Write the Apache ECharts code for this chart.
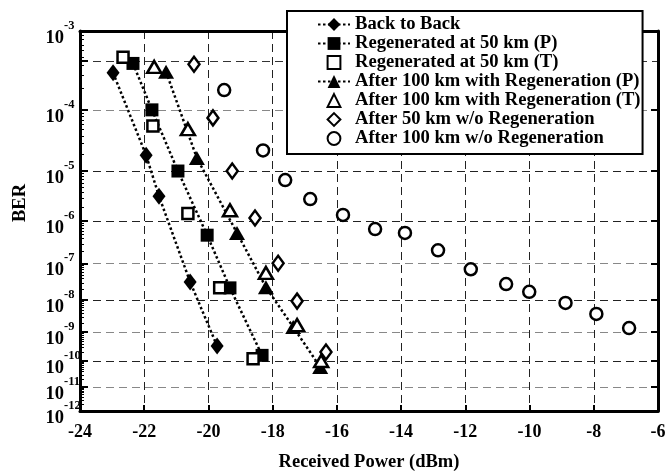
<!DOCTYPE html>
<html>
<head>
<meta charset="utf-8">
<script src="https://cdn.jsdelivr.net/npm/echarts@6/dist/echarts.min.js"></script>
<style>
  html, body { margin: 0; padding: 0; background: #fff; }
  #chart { width: 667px; height: 474px; }
</style>
</head>
<body>
<div id="chart"></div>
<script>
// received power (dBm) and BER
var b2bX = [-22.97, -21.94, -21.54, -20.57, -19.73]
var b2bBer = [3.2e-4, 1.9e-5, 3.3e-6, 3.2e-8, 3.4e-10]

var regenPX = [-22.35, -21.76, -20.95, -20.04, -19.33, -18.33]
var regenPBer = [4.2e-4, 1.0e-4, 1.0e-5, 4.8e-7, 2.2e-8, 1.6e-10]

var regenTX = [-22.66, -21.73, -20.64, -19.65, -18.61]
var regenTBer = [5.0e-4, 5.7e-5, 1.45e-6, 2.2e-8, 1.2e-10]

var km100PX = [-21.32, -20.36, -19.11, -18.21, -17.36, -16.52]
var km100PBer = [3.3e-4, 1.7e-5, 5.4e-7, 2.3e-8, 1.46e-9, 6.0e-11]

var km100TX = [-21.69, -20.64, -19.33, -18.21, -17.24, -16.49]
var km100TBer = [3.8e-4, 5.1e-5, 1.7e-6, 5.6e-8, 1.7e-9, 1.0e-10]

var km50NoX = [-20.45, -19.86, -19.26, -18.55, -17.83, -17.24, -16.34]
var km50NoBer = [4.1e-4, 7.6e-5, 1.0e-5, 1.16e-6, 1.0e-7, 9.2e-9, 2.1e-10]

var km100NoX = [-19.51, -18.30, -17.61, -16.83, -15.81, -14.81, -13.88, -12.85, -11.83, -10.73, -10.01, -8.88, -7.92, -6.90]
var km100NoBer = [1.9e-4, 2.3e-5, 6.8e-6, 2.9e-6, 1.35e-6, 6.6e-7, 5.4e-7, 2.1e-7, 7.0e-8, 2.8e-8, 1.7e-8, 8.1e-9, 3.8e-9, 1.36e-9]

var seriesNames = [
  'Back to Back',
  'Regenerated at 50 km (P)',
  'Regenerated at 50 km (T)',
  'After 100 km with Regeneration (P)',
  'After 100 km with Regeneration (T)',
  'After 50 km w/o Regeneration',
  'After 100 km w/o Regeneration'
]

// decade exponents on the BER axis
var decades = [3, 4, 5, 6, 7, 8, 9, 10, 11, 12]
var extraGridBer = 4.5e-4

var FONT = '"Liberation Serif", "Times New Roman", serif'

// BER axis is linear in log10(-log10(BER))
function berT (ber) {
  return Math.log10(-Math.log10(ber))
}
function pts (xs, bers) {
  return xs.map(function (x, i) { return [x, berT(bers[i])] })
}

var decadeT = decades.map(function (n) { return berT(Math.pow(10, -n)) })
var gridT = [decadeT[0], berT(extraGridBer)].concat(decadeT.slice(1))
var minorT = []
for (var n = 4; n <= 12; n++) {
  for (var k = 2; k <= 9; k++) minorT.push(berT(k * Math.pow(10, -n)))
}
var tMin = decadeT[0]
var tMax = decadeT[decadeT.length - 1]

var dotted = { color: '#000', width: 2.5, type: [2.5, 2.5] }
var noLine = { width: 0, opacity: 0 }
var openStyle = { color: '#fff', borderColor: '#000', borderWidth: 2.5 }

// marker-only series are drawn as lines with a hidden stroke so the legend keeps symbol proportions
function makeSeries (name, xs, bers, symbol, size, itemStyle, lineStyle) {
  return {
    name: name,
    type: 'line',
    data: pts(xs, bers),
    symbol: symbol,
    symbolSize: size,
    showAllSymbol: true,
    itemStyle: itemStyle,
    lineStyle: lineStyle
  }
}

var myChart = echarts.init(document.getElementById('chart'), null, { renderer: 'canvas' })
myChart.setOption({
  animation: false,
  backgroundColor: '#fff',
  grid: { left: 80, right: 9, top: 31, bottom: 63, containLabel: false, outerBoundsMode: 'none' },
  legend: {
    orient: 'vertical',
    left: 287,
    top: 11,
    padding: [4, 2, 6, 30],
    itemWidth: 32,
    itemHeight: 16,
    itemGap: 0,
    backgroundColor: '#fff',
    borderColor: '#000',
    borderWidth: 2,
    z: 10,
    textStyle: { fontFamily: FONT, fontWeight: 'bold', fontSize: 18.6, lineHeight: 18, color: '#000' },
    data: seriesNames
  },
  xAxis: [
    {
      type: 'value',
      min: -24,
      max: -6,
      interval: 2,
      name: 'Received Power (dBm)',
      nameLocation: 'middle',
      nameGap: 42,
      nameTextStyle: { fontFamily: FONT, fontWeight: 'bold', fontSize: 18.5, color: '#000' },
      axisLine: { onZero: false, lineStyle: { color: '#000', width: 3 } },
      axisTick: { inside: true, length: 6, lineStyle: { color: '#000', width: 2 } },
      axisLabel: { margin: 12, fontFamily: FONT, fontWeight: 'bold', fontSize: 18, color: '#000' },
      splitLine: { show: true, lineStyle: { color: '#222', width: 1, type: [8, 5] } }
    },
    {
      type: 'value',
      position: 'top',
      min: -24,
      max: -6,
      interval: 2,
      axisLine: { onZero: false, lineStyle: { color: '#000', width: 3 } },
      axisTick: { show: false },
      axisLabel: { show: false },
      splitLine: { show: false }
    }
  ],
  yAxis: [
    {
      // main BER axis: major ticks, grid lines and the "10" part of the labels
      type: 'value',
      inverse: true,
      min: tMin,
      max: tMax,
      name: 'BER',
      nameLocation: 'middle',
      nameGap: 50,
      nameTextStyle: { fontFamily: FONT, fontWeight: 'bold', fontSize: 18.5, color: '#000', padding: [0, 0, 0, 36] },
      axisLine: { onZero: false, lineStyle: { color: '#000', width: 3 } },
      axisTick: { inside: true, length: 8, customValues: gridT, lineStyle: { color: '#000', width: 2 } },
      axisLabel: {
        margin: 16,
        showMinLabel: true,
        showMaxLabel: true,
        customValues: decadeT,
        formatter: function () { return '10' },
        verticalAlign: 'top',
        lineHeight: 14,
        fontFamily: FONT,
        fontWeight: 'bold',
        fontSize: 18.5,
        color: '#000'
      },
      splitLine: {
        show: true,
        lineStyle: {
          color: ['#222', '#333', '#888', '#222', '#222', '#888', '#222', '#888', '#222', '#888', '#222'],
          width: 1,
          type: [8, 5]
        }
      }
    },
    {
      // minor ticks and the exponents
      type: 'value',
      inverse: true,
      min: tMin,
      max: tMax,
      position: 'left',
      axisLine: { show: false, onZero: false },
      axisTick: { inside: true, length: 4, customValues: minorT, lineStyle: { color: '#000', width: 1 } },
      axisLabel: {
        margin: 16,
        showMinLabel: true,
        showMaxLabel: true,
        customValues: decadeT,
        formatter: function (v) { return '-' + Math.round(Math.pow(10, v)) },
        align: 'left',
        verticalAlign: 'bottom',
        lineHeight: 10,
        fontFamily: FONT,
        fontWeight: 'bold',
        fontSize: 12.5,
        color: '#000'
      },
      splitLine: { show: false }
    },
    {
      type: 'value',
      inverse: true,
      min: tMin,
      max: tMax,
      position: 'right',
      axisLine: { onZero: false, lineStyle: { color: '#000', width: 3 } },
      axisTick: { inside: true, length: 7, customValues: decadeT, lineStyle: { color: '#000', width: 2 } },
      axisLabel: { show: false },
      splitLine: { show: false }
    }
  ],
  series: [
    makeSeries(seriesNames[0], b2bX, b2bBer, 'diamond', [13, 17], { color: '#000' }, dotted),
    makeSeries(seriesNames[1], regenPX, regenPBer, 'rect', 13, { color: '#000' }, dotted),
    makeSeries(seriesNames[2], regenTX, regenTBer, 'rect', 11, openStyle, noLine),
    makeSeries(seriesNames[3], km100PX, km100PBer, 'triangle', [16, 14], { color: '#000' }, dotted),
    makeSeries(seriesNames[4], km100TX, km100TBer, 'triangle', [14, 12], openStyle, noLine),
    makeSeries(seriesNames[5], km50NoX, km50NoBer, 'diamond', [11, 15], openStyle, noLine),
    makeSeries(seriesNames[6], km100NoX, km100NoBer, 'circle', 12, openStyle, noLine)
  ]
})
</script>
</body>
</html>
